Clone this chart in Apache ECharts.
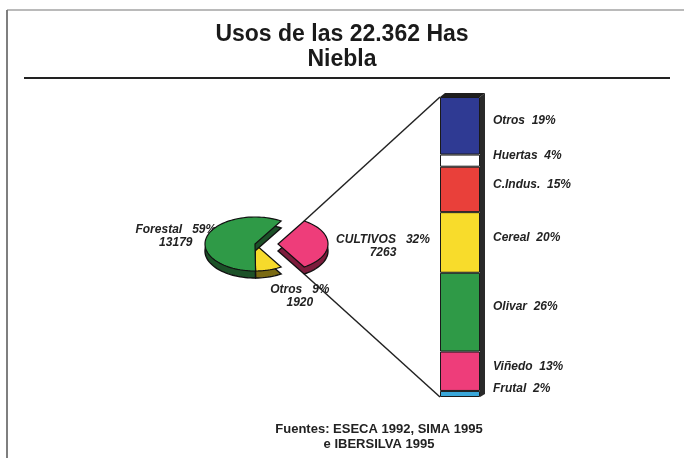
<!DOCTYPE html>
<html>
<head>
<meta charset="utf-8">
<script src="https://cdn.jsdelivr.net/npm/echarts@6/dist/echarts.min.js"></script>
<style>
  html, body { margin: 0; background: #fff; }
  #main { width: 684px; height: 458px; }
</style>
</head>
<body>
<div id="main"></div>
<script>
// pie: CULTIVOS first so its wedge is centred on the right side
var pieNames = ['CULTIVOS', 'Otros', 'Forestal'];
var pieValues = [7263, 1920, 13179];
var piePercents = ['32%', '9%', '59%'];

// bar (top to bottom), % of CULTIVOS
var barNames = ['Otros', 'Huertas', 'C.Indus.', 'Cereal', 'Olivar', 'Viñedo', 'Frutal'];
var barPercents = [19, 4, 15, 20, 26, 13, 2];

var pieColors = ['#ee3d7a', '#f6da2b', '#2f9a47'];
var pieDark = ['#7d1c3c', '#7a6a12', '#1c5128'];
var barColors = ['#2f3a93', '#ffffff', '#e9403a', '#f8dc2b', '#2f9a47', '#ee3d7a', '#3aa7d9'];

var FONT = 'Liberation Sans, Arial, sans-serif';
var PIE = { cx: 255, cy: 244, rx: 50, ry: 27, depth: 7, explode: 23 };
// label offsets from the slice's outer mid point
var pieLabelOff = [[55, 2], [31, 26], [-31, -1]];

var total = pieValues.reduce(function (a, b) { return a + b; }, 0);
var barTotal = barPercents.reduce(function (a, b) { return a + b; }, 0);

function sliceAngles() {
  var res = [];
  var a = -pieValues[0] / total * 180;
  for (var i = 0; i < pieValues.length; i++) {
    var sweep = pieValues[i] / total * 360;
    res.push([a, a + sweep]);
    a += sweep;
  }
  return res;
}
var angles = sliceAngles();

function sliceCenter(i) {
  var mid = (angles[i][0] + angles[i][1]) / 2 * Math.PI / 180;
  var e = i === 0 ? PIE.explode : 0;
  return [PIE.cx + e * Math.cos(mid), PIE.cy + e * Math.sin(mid) * PIE.ry / PIE.rx];
}

function ellPt(c, a, dy) {
  var r = a * Math.PI / 180;
  return [c[0] + PIE.rx * Math.cos(r), c[1] + dy + PIE.ry * Math.sin(r)];
}

function wedge(c, a0, a1, dy) {
  var pts = [[c[0], c[1] + dy]];
  var n = Math.max(2, Math.ceil(Math.abs(a1 - a0) / 3));
  for (var k = 0; k <= n; k++) pts.push(ellPt(c, a0 + (a1 - a0) * k / n, dy));
  return pts;
}

var chart = echarts.init(document.getElementById('main'));

var option = {
  backgroundColor: '#fff',
  animation: false,
  title: [{
    text: 'Usos de las 22.362 Has\nNiebla',
    left: 'center',
    top: 17,
    textStyle: { fontFamily: FONT, fontWeight: 'bold', fontSize: 23, lineHeight: 25, color: '#1a1a1a' }
  }, {
    text: 'Fuentes: ESECA 1992, SIMA 1995\ne IBERSILVA 1995',
    left: 374,
    top: 417,
    textAlign: 'center',
    textStyle: { fontFamily: FONT, fontWeight: 'bold', fontSize: 13, lineHeight: 15, color: '#222' }
  }],
  grid: { left: 440, top: 97, width: 40, height: 300 },
  xAxis: { type: 'category', data: ['CULTIVOS'], show: false },
  yAxis: { type: 'value', min: 0, max: barTotal, inverse: true, show: false },
  series: barNames.map(function (name, i) {
    return {
      type: 'bar',
      name: name,
      stack: 'cultivos',
      barWidth: 40,
      z: 3,
      data: [barPercents[i]],
      itemStyle: { color: barColors[i], borderColor: '#1a1a1a', borderWidth: 1 },
      label: {
        show: true,
        position: 'right',
        distance: 13,
        offset: [0, -5],
        formatter: name + '  ' + barPercents[i] + '%',
        fontFamily: FONT, fontStyle: 'italic', fontWeight: 'bold', fontSize: 12, color: '#222'
      }
    };
  }).concat([{
    // pie labels, under the pie
    type: 'custom',
    coordinateSystem: 'none',
    z: 1,
    data: pieValues,
    renderItem: function (params, api) {
      var i = params.dataIndex;
      var c = sliceCenter(i);
      var mid = (angles[i][0] + angles[i][1]) / 2;
      var p = ellPt(c, mid, 0);
      return {
        type: 'text',
        style: {
          x: p[0] + pieLabelOff[i][0],
          y: p[1] + pieLabelOff[i][1],
          text: pieNames[i] + '   ' + piePercents[i] + '\n' + pieValues[i],
          align: 'center',
          verticalAlign: 'middle',
          lineHeight: 13,
          font: 'italic bold 12px ' + FONT,
          fill: '#222'
        }
      };
    }
  }, {
    // pie slices, drawn as tilted ellipse wedges
    type: 'custom',
    coordinateSystem: 'none',
    z: 4,
    data: pieValues,
    renderItem: function (params, api) {
      var i = params.dataIndex;
      var c = sliceCenter(i);
      var a = angles[i];
      return {
        type: 'group',
        children: [{
          type: 'polygon',
          shape: { points: wedge(c, a[0], a[1], PIE.depth) },
          style: { fill: pieDark[i], stroke: '#111', lineWidth: 1.4 }
        }, {
          type: 'polygon',
          shape: { points: wedge(c, a[0], a[1], 0) },
          style: { fill: pieColors[i], stroke: '#111', lineWidth: 1.2 }
        }]
      };
    }
  }])
};
chart.setOption(option);

// frame, title rule, 3d side of the bar and connector lines
var topL = chart.convertToPixel({ gridIndex: 0 }, [0, 0]);
var botL = chart.convertToPixel({ gridIndex: 0 }, [0, barTotal]);
var xl = topL[0] - 20, xr = topL[0] + 20, yt = topL[1], yb = botL[1];
var pc = sliceCenter(0);
var upP = ellPt(pc, angles[0][0], 0);
var loP = ellPt(pc, angles[0][1], PIE.depth);

chart.setOption({
  graphic: [
    { type: 'line', shape: { x1: 7, y1: 10, x2: 7, y2: 458 }, style: { stroke: '#555', lineWidth: 1.5 } },
    { type: 'line', shape: { x1: 7, y1: 10, x2: 684, y2: 10 }, style: { stroke: '#777', lineWidth: 1.2 } },
    { type: 'line', shape: { x1: 24, y1: 78, x2: 670, y2: 78 }, style: { stroke: '#222', lineWidth: 2 } },
    { type: 'line', z: 2, shape: { x1: upP[0], y1: upP[1], x2: xl, y2: yt }, style: { stroke: '#222', lineWidth: 1.5 } },
    { type: 'line', z: 2, shape: { x1: loP[0], y1: loP[1], x2: xl, y2: yb }, style: { stroke: '#222', lineWidth: 1.5 } },
    { type: 'polygon', z: 2, shape: { points: [[xr, yt], [xr + 5, yt - 4], [xr + 5, yb - 3], [xr, yb]] }, style: { fill: '#2a2a2a' } },
    { type: 'polygon', z: 2, shape: { points: [[xl, yt], [xl + 5, yt - 4], [xr + 5, yt - 4], [xr, yt]] }, style: { fill: '#1e1e1e' } }
  ]
});
</script>
</body>
</html>
